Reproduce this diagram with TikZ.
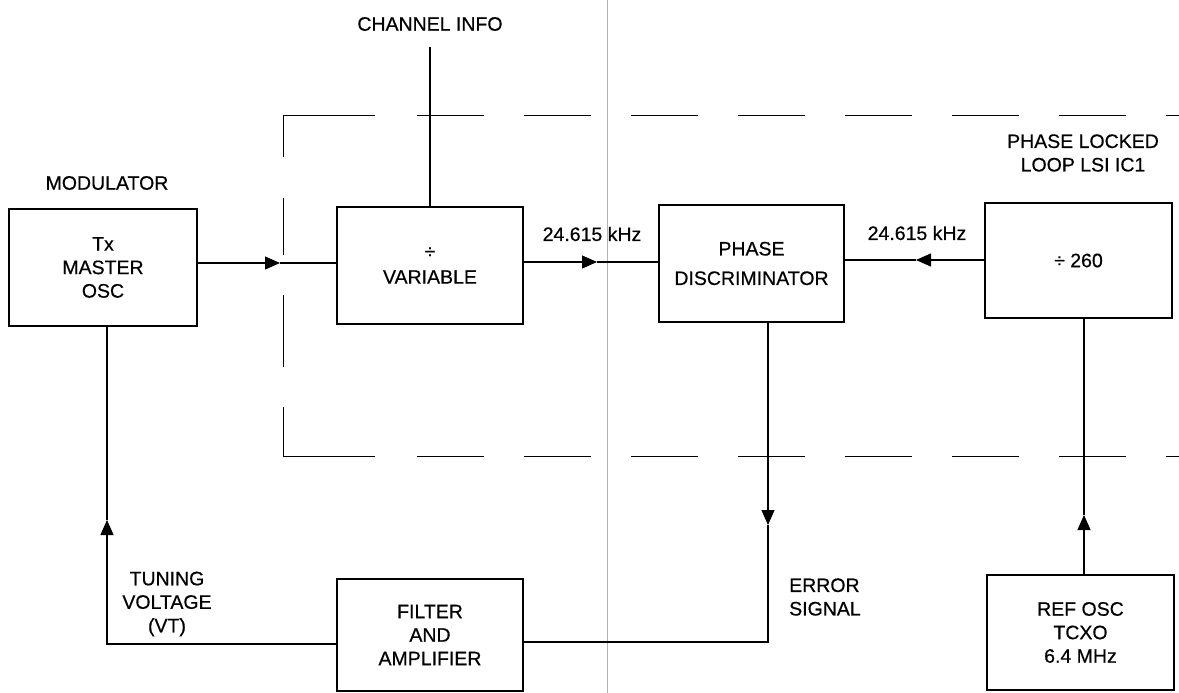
\documentclass[tikz,border=0pt]{standalone}
\usepackage{fontspec}
\setmainfont{Liberation Sans}[FakeBold=0.5]
\usetikzlibrary{arrows.meta}
\begin{document}
\begin{tikzpicture}[x=1pt,y=-1pt,
  every node/.style={font=\fontsize{19.5}{23.5}\selectfont, inner sep=0pt, align=center},
  blk/.style={draw, line width=1.1pt, minimum width=186pt, minimum height=117pt},
  ln/.style={line width=1.1pt},
  arr/.style={line width=1.1pt, -{Triangle[length=15pt,width=13pt]}},
  dsh/.style={line width=1pt},
  dashline/.style={line width=1pt, dash pattern=on 67pt off 40pt}]
\useasboundingbox (0,0) rectangle (1179,693);

% scan fold line
\draw[gray!60, line width=0.6pt] (607,0) -- (607,693);

% dashed enclosure (PLL IC)
\draw[dsh] (375,115) -- (283,115) -- (283,157);
\draw[dsh] (283,198) -- (283,255);
\draw[dsh] (283,295) -- (283,367);
\draw[dsh] (283,407) -- (283,456) -- (375,456);
\draw[dashline] (417,115) -- (1179,115);
\draw[dashline] (417,456) -- (1179,456);

% blocks
\node[blk, minimum width=188pt] (tx) at (103,267.5) {Tx\\MASTER\\OSC};
\node[blk] (var) at (430,265.5) {\char"00F7\\[2pt]VARIABLE};
\node[blk, minimum width=185pt] (pd) at (751.5,263.5) {PHASE\\[6pt]DISCRIMINATOR};
\node[blk, minimum width=187pt, minimum height=115pt] (div) at (1078.5,260.5) {\char"00F7\ 260};
\node[blk, minimum width=187pt, minimum height=115pt] (ref) at (1080.5,632.5) {REF OSC\\TCXO\\6.4 MHz};
\node[blk, minimum height=112pt] (filt) at (430,635) {FILTER\\AND\\AMPLIFIER};

% labels
\node (lmod) at (107,183) {MODULATOR};
\node (lch) at (430,24) {CHANNEL INFO};
\node (lf1) at (592,234) {24.615 kHz};
\node (lf2) at (917,233) {24.615 kHz};
\node (lpll) at (1083,153) {PHASE LOCKED\\LOOP LSI IC1};
\node (ltv) at (167,604) {TUNING\\VOLTAGE\\(VT)};
\node[anchor=west, align=left] (lerr) at (789,597) {ERROR\\SIGNAL};

% connectors
\coordinate (ch) at (430,47);
\draw[ln] (var.north) -- (ch);

\coordinate (a1) at (280,263);
\draw[arr] (tx.east |- a1) -- (a1);
\draw[ln] (a1) -- (var.west |- a1);

\coordinate (a2) at (597,262);
\draw[arr] (var.east |- a2) -- (a2);
\draw[ln] (a2) -- (pd.west |- a2);

\coordinate (a3) at (916,260);
\draw[arr] (div.west |- a3) -- (a3);
\draw[ln] (a3) -- (pd.east |- a3);

\coordinate (e1) at (768,525);
\coordinate (e2) at (768,642);
\draw[arr] (pd.south -| e1) -- (e1);
\draw[ln] (e1) -- (e2) -- (filt.east |- e2);

\coordinate (t1) at (107,644);
\coordinate (t2) at (107,520);
\draw[arr] (filt.west |- t1) -- (t1) -- (t2);
\draw[ln] (t2) -- (tx.south -| t2);

\coordinate (r1) at (1084,515);
\draw[arr] (ref.north -| r1) -- (r1);
\draw[ln] (r1) -- (div.south -| r1);
\end{tikzpicture}
\end{document}
